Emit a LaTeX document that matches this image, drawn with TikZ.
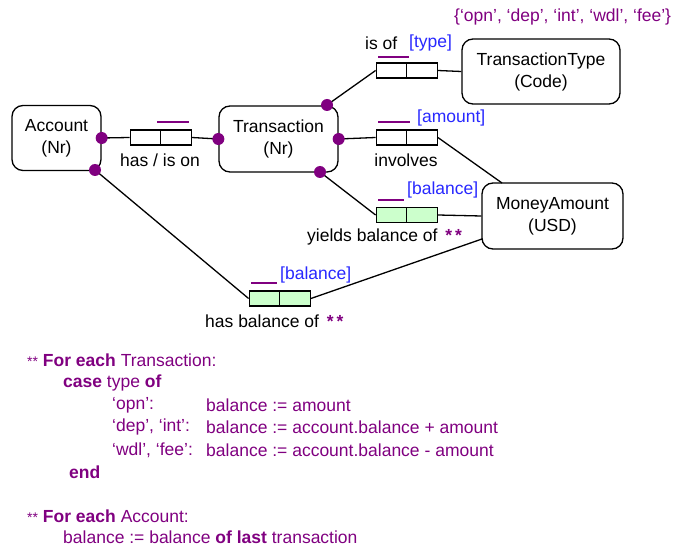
\documentclass[tikz,border=0pt]{standalone}
\usepackage{fontspec}
\setmainfont{Liberation Sans}
\definecolor{ormpurple}{RGB}{128,0,128}
\definecolor{ormblue}{RGB}{40,40,255}
\definecolor{ormgreen}{RGB}{204,255,204}
\begin{document}
\begin{tikzpicture}[x=1pt,y=-1pt,
  font=\fontsize{17.5}{22}\selectfont,
  entity/.style={draw, line width=1.3pt, rounded corners=11pt, align=center, inner sep=0pt},
  role/.style={draw, line width=1.3pt, minimum width=30.5pt, minimum height=15pt, inner sep=0pt, fill=white},
  grole/.style={role, fill=ormgreen},
  conn/.style={line width=1.3pt},
  ubar/.style={line width=2pt, ormpurple},
  rdot/.style={circle, fill=ormpurple, inner sep=0pt, minimum size=12pt},
  lbl/.style={inner sep=0pt, anchor=west},
  rname/.style={lbl, text=ormblue},
  ptxt/.style={lbl, text=ormpurple}]
\useasboundingbox (0,0) rectangle (694,548);

% entity types
\node[entity, minimum width=89pt, minimum height=65pt] (acc) at (56.5,138) {Account\\(Nr)};
\node[entity, minimum width=119pt, minimum height=66pt] (tr) at (278.5,139) {Transaction\\(Nr)};
\node[entity, minimum width=158pt, minimum height=65pt] (tt) at (541,71.5) {TransactionType\\(Code)};
\node[entity, minimum width=141pt, minimum height=66pt] (ma) at (552.5,216) {MoneyAmount\\(USD)};

% role attachment points
\coordinate (dA2) at (95,170);
\coordinate (dT1) at (327,105);
\coordinate (dT3) at (320,172);
\coordinate (maTop) at (502,183);
\coordinate (maLow) at (482,239);

% fact types (roles)
\node[role] (f1a) at (145.5,137.5) {};
\node[role] (f1b) at (176,137.5) {};
\node[role] (f2a) at (391.5,137.5) {};
\node[role] (f2b) at (422,137.5) {};
\node[role] (f3a) at (391.5,70.5) {};
\node[role] (f3b) at (422,70.5) {};
\node[grole] (f4a) at (391.5,215) {};
\node[grole] (f4b) at (422,215) {};
\node[grole] (f5a) at (264.5,298.5) {};
\node[grole] (f5b) at (295,298.5) {};

% connectors
\draw[conn] (acc.east) -- (f1a.west);
\draw[conn] (f1b.east) -- (tr.west);
\draw[conn] (tr.east) -- (f2a.west);
\draw[conn] (f2b.east) -- (maTop);
\draw[conn] (dT1) -- (f3a.west);
\draw[conn] (f3b.east) -- (tt.west);
\draw[conn] (dT3) -- (f4a.west);
\draw[conn] (f4b.east) -- (ma.west);
\draw[conn] (dA2) -- (f5a.west);
\draw[conn] (f5b.east) -- (maLow);

% dots
\node[rdot] (p1) at (acc.east) {};
\node[rdot] (p2) at (dA2) {};
\node[rdot] (p3) at (tr.west) {};
\node[rdot] (p4) at (tr.east) {};
\node[rdot] (p5) at (dT1) {};
\node[rdot] (p6) at (dT3) {};

% uniqueness constraints
\draw[ubar] (157,122) -- (189,122);
\draw[ubar] (378,122) -- (410,122);
\draw[ubar] (378,57) -- (409,57);
\draw[ubar] (378,200) -- (404,200);
\draw[ubar] (251,283) -- (277,283);

% labels
\node[inner sep=0pt] (l1) at (160,160) {has / is on};
\node[inner sep=0pt] (l2) at (406,160) {involves};
\node[lbl] (l3) at (365,43) {is of};
\node[rname] (r3) at (409,43) {[type]};
\node[rname] (r2) at (417,118) {[amount]};
\node[rname] (r4) at (407,190) {[balance]};
\node[lbl] (l4) at (307,237) {yields balance of \,\textcolor{ormpurple}{\textbf{*\,*}}};
\node[rname] (r5) at (280,275) {[balance]};
\node[lbl] (l5) at (205,321) {has balance of \,\textcolor{ormpurple}{\textbf{*\,*}}};
\node[ptxt] (vc) at (454,17) {\{‘opn’, ‘dep’, ‘int’, ‘wdl’, ‘fee’\}};

% derivation rules
\node[ptxt] (t1) at (27,360) {{\fontsize{14}{14}\selectfont **} \textbf{For each} Transaction:};
\node[ptxt] (t2) at (63,383) {\textbf{case} type \textbf{of}};
\node[ptxt] (t3a) at (112,405) {‘opn’:};
\node[ptxt] (t3b) at (206,405) {balance := amount};
\node[ptxt] (t4a) at (112,427) {‘dep’, ‘int’:};
\node[ptxt] (t4b) at (206,427) {balance := account.balance + amount};
\node[ptxt] (t5a) at (112,450) {‘wdl’, ‘fee’:};
\node[ptxt] (t5b) at (206,450) {balance := account.balance - amount};
\node[ptxt] (t6) at (69,472) {\textbf{end}};
\node[ptxt] (t7) at (27,516) {{\fontsize{14}{14}\selectfont **} \textbf{For each} Account:};
\node[ptxt] (t8) at (63,537) {balance := balance \textbf{of last} transaction};
\end{tikzpicture}
\end{document}
